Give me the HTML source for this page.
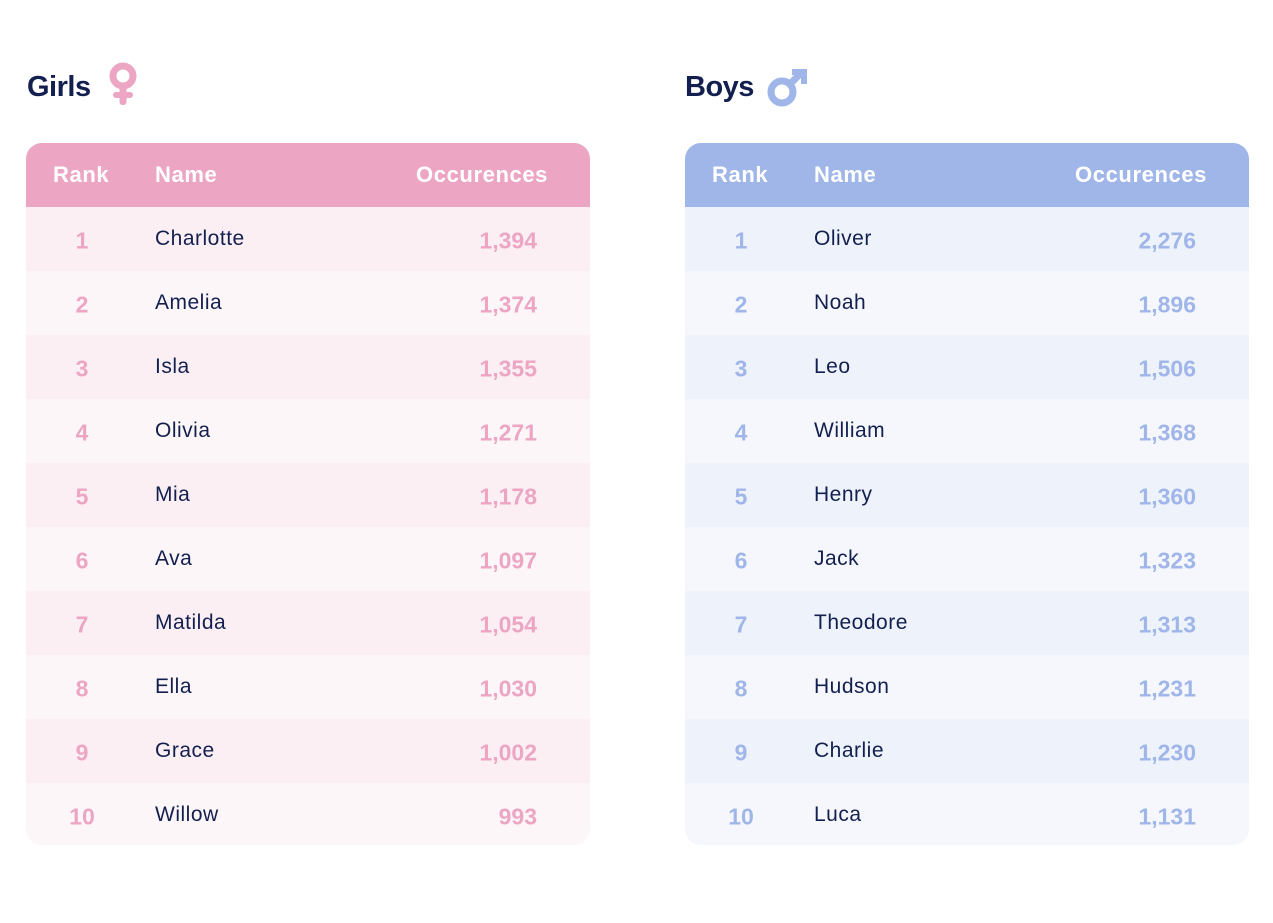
<!DOCTYPE html>
<html><head><meta charset="utf-8">
<style>
body{margin:0;width:1273px;height:923px;background:#fff;font-family:"Liberation Sans",sans-serif;position:relative;overflow:hidden}
.title{position:absolute;top:71px;font-size:29px;font-weight:bold;color:#13204f;letter-spacing:-0.5px}
.tbl{position:absolute;top:143px;width:564px;height:702px;border-radius:16px;overflow:hidden}
.hdr{position:absolute;left:0;top:0;width:564px;height:64px;color:#fff;font-weight:bold;font-size:22px;letter-spacing:0.6px}
.hdr span,.row span{position:absolute;top:50%;transform:translateY(-50%)}
.row{position:absolute;left:0;width:564px;height:64px;font-size:21px}
.nm{color:#13204f;left:129px;letter-spacing:0.5px}
.rk{font-weight:bold;width:0;left:56px;text-align:center;display:flex;justify-content:center;font-size:23px;margin-top:2px}
.val{font-weight:bold;right:53px;font-size:23px;margin-top:2px}
</style></head><body>
<div class="title" style="left:27px">Girls</div>
<svg style="position:absolute;left:106px;top:61px" width="34" height="46" viewBox="0 0 34 46"><circle cx="17" cy="15" r="10" fill="none" stroke="#eca6c4" stroke-width="7"/><rect x="13.5" y="24" width="7" height="20" rx="3" fill="#eca6c4"/><rect x="7" y="31" width="20" height="6" rx="3" fill="#eca6c4"/></svg>
<div class="title" style="left:685px">Boys</div>
<svg style="position:absolute;left:765px;top:66px" width="46" height="44" viewBox="0 0 46 44"><circle cx="17" cy="26" r="11" fill="none" stroke="#a0b6e8" stroke-width="7"/><line x1="24" y1="19" x2="37" y2="6" stroke="#a0b6e8" stroke-width="7"/><path d="M27 3 H42 V18 H36 V9 H27Z" fill="#a0b6e8"/></svg>
<div id="g" class="tbl" style="left:26px"></div>
<div id="b" class="tbl" style="left:685px"></div>
<script>
const ranks=[1,2,3,4,5,6,7,8,9,10];
const girlNames=["Charlotte","Amelia","Isla","Olivia","Mia","Ava","Matilda","Ella","Grace","Willow"];
const girlValues=[1394,1374,1355,1271,1178,1097,1054,1030,1002,993];
const boyNames=["Oliver","Noah","Leo","William","Henry","Jack","Theodore","Hudson","Charlie","Luca"];
const boyValues=[2276,1896,1506,1368,1360,1323,1313,1231,1230,1131];
function build(id,names,values,hc,c1,c2){
  const t=document.getElementById(id);
  const h=document.createElement('div');h.className='hdr';h.style.background=hc;
  
  
  h.innerHTML='<span style="left:27px">Rank</span><span style="left:129px">Name</span><span style="right:42px">Occurences</span>';
  t.appendChild(h);
  names.forEach((n,i)=>{
    const r=document.createElement('div');r.className='row';
    
    
    r.style.top=(64+i*64)+'px';r.style.background=i%2?c2:c1;
    const rk=document.createElement('span');rk.className='rk';rk.style.color=hc;rk.textContent=ranks[i];
    
    
    const nm=document.createElement('span');nm.className='nm';nm.textContent=n;
    
    
    const v=document.createElement('span');v.className='val';v.style.color=hc;v.textContent=values[i].toLocaleString('en-US');
    
    
    r.appendChild(rk);r.appendChild(nm);r.appendChild(v);t.appendChild(r);
  });
}
build('g',girlNames,girlValues,'#eca6c4','#fbeff4','#fcf6f9');
build('b',boyNames,boyValues,'#a0b6e8','#eef2fb','#f5f7fd');
</script>
</body></html>
